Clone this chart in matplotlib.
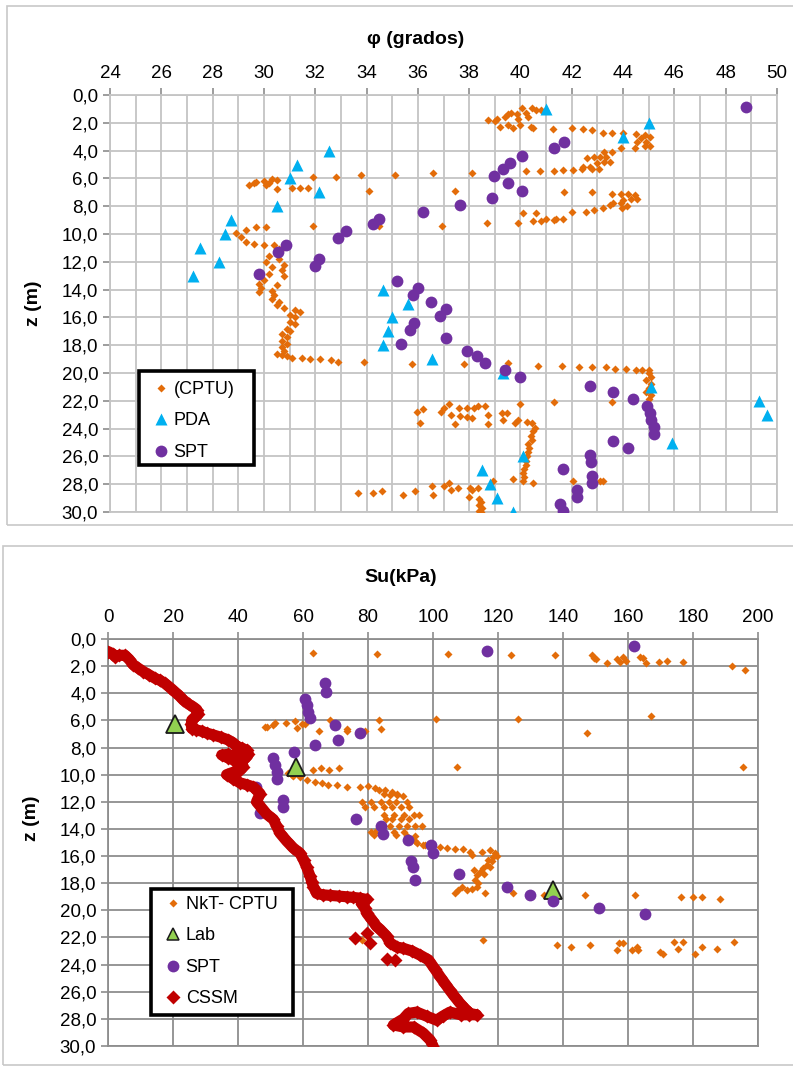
import matplotlib
matplotlib.use("Agg")
import matplotlib.pyplot as plt
from matplotlib.patches import Rectangle
from matplotlib.lines import Line2D
from matplotlib.ticker import MultipleLocator, FuncFormatter

# ---------------- datos: panel superior (phi) ----------------
cptu_phi = [38.75, 39.1, 39.4, 39.5, 39.65, 39.85, 40.05, 40.2, 40.45, 40.6, 40.8, 39.2, 39.5, 39.7, 40.0, 40.4, 40.5, 39.0, 39.9, 40.3,
            41.25, 42.0, 42.45, 42.8, 43.2, 43.55, 44.0,
            44.5, 44.85, 45.05, 44.55, 44.9, 45.05, 44.45, 44.85, 44.7,
            43.9, 43.55, 43.25, 43.35, 43.1, 42.85, 42.6, 43.5, 43.25, 43.0, 42.7, 42.45, 43.05, 42.8, 42.4,
            42.05, 41.65, 41.3, 40.75, 40.2, 38.1, 36.6, 35.1, 33.8, 32.8, 31.9,
            29.4, 29.6, 30.0, 30.1, 30.3, 30.5, 29.7, 30.2, 30.5, 31.1, 31.4, 31.7, 34.1, 37.45, 41.7, 42.8, 43.55,
            43.9, 44.2, 44.45, 44.55, 44.3, 44.0, 43.9, 43.6, 43.5, 44.15, 43.95,
            43.2, 42.85, 42.55, 42.0, 41.65, 41.3, 41.0, 40.6, 40.1, 39.9, 40.5, 40.8, 41.4, 38.7, 36.95, 34.5, 31.9,
            30.1, 29.7, 29.3, 28.9, 29.1, 29.3, 29.6, 30.0, 30.4, 30.8, 30.6,
            30.2, 30.6, 30.1, 30.8, 30.3, 30.7, 30.2, 30.8, 30.0, 29.8, 30.5, 29.9, 30.3, 29.8, 30.4, 30.3, 30.6, 30.5,
            30.8, 31.2, 31.4, 31.0, 31.2, 31.0, 31.2, 30.9, 31.0, 30.7, 30.9, 30.7, 30.9, 30.7, 30.8, 30.5, 30.7, 30.9,
            31.1, 31.5, 31.8, 32.2, 32.6, 32.9, 33.9,
            35.76, 37.8, 39.5, 40.7, 41.6, 42.3, 42.8, 43.35, 43.7, 44.1, 44.5, 44.75, 45.0,
            45.0, 45.1, 44.9, 45.1, 45.0, 44.9, 45.1, 45.0,
            43.56, 41.3, 40.0,
            35.96, 36.2, 36.1, 36.9, 37.0, 37.2, 37.3, 37.45, 37.6, 37.65, 37.9, 37.93, 38.1, 38.2, 38.36, 38.6, 38.75,
            38.75, 39.27, 39.33, 39.47, 39.8, 39.9, 40.25, 40.45, 40.57,
            40.5, 40.4, 40.45, 40.3, 40.35, 40.3, 40.25, 40.2, 40.2, 40.15, 40.1, 40.15, 40.1,
            39.7, 40.5, 42.06, 43.1, 43.23,
            35.43, 35.9, 36.54, 36.58, 37.0, 37.23, 37.3, 37.58, 38.03, 38.1, 38.36, 38.0, 38.94, 33.68, 34.24, 34.59,
            38.4, 38.45, 38.4, 38.5, 38.4, 38.45]
cptu_z = [1.8, 1.7, 1.55, 1.4, 1.3, 1.4, 0.9, 1.3, 0.96, 1.1, 1.1, 2.3, 2.15, 2.4, 2.15, 2.3, 2.4, 1.9, 1.7, 1.6,
          2.45, 2.4, 2.45, 2.55, 2.7, 2.7, 2.7,
          2.8, 2.9, 3.0, 3.35, 3.35, 3.7, 3.8, 3.7, 3.1,
          3.8, 4.1, 4.1, 4.45, 4.45, 4.45, 4.55, 4.8, 4.8, 4.9, 5.15, 5.15, 5.3, 5.3, 5.3,
          5.4, 5.4, 5.5, 5.5, 5.5, 5.6, 5.6, 5.75, 5.75, 5.9, 5.9,
          6.5, 6.35, 6.2, 6.5, 6.05, 6.1, 6.25, 6.3, 6.76, 6.7, 6.7, 6.7, 6.9, 6.9, 7.0, 7.0, 7.1,
          7.1, 7.1, 7.2, 7.45, 7.45, 7.55, 7.8, 7.8, 7.9, 8.0, 8.15,
          8.15, 8.3, 8.4, 8.4, 8.9, 9.0, 8.9, 8.5, 8.5, 9.2, 9.1, 9.1, 8.9, 9.2, 9.4, 9.4, 9.4,
          9.5, 9.5, 9.7, 9.95, 10.2, 10.55, 10.7, 10.8, 10.8, 10.9, 11.1,
          11.6, 11.8, 12.0, 12.2, 12.4, 12.6, 12.9, 13.0, 13.3, 13.6, 13.7, 13.9, 14.1, 14.2, 14.4, 14.7, 14.9, 15.1,
          15.3, 15.5, 15.6, 15.8, 16.0, 16.3, 16.5, 16.8, 17.0, 17.2, 17.4, 17.7, 17.9, 18.1, 18.4, 18.6, 18.7, 18.8,
          18.9, 18.9, 19.0, 19.0, 19.1, 19.2, 19.2,
          19.35, 19.35, 19.3, 19.5, 19.5, 19.6, 19.6, 19.6, 19.7, 19.7, 19.8, 19.8, 19.8,
          20.0, 20.3, 20.5, 20.8, 21.1, 21.4, 21.6, 21.9,
          22.1, 22.1, 22.2,
          22.78, 22.6, 23.6, 22.78, 22.55, 22.2, 23.0, 23.7, 22.5, 23.1, 22.55, 23.15, 23.25, 22.55, 22.4, 22.35, 23.0,
          23.7, 22.9, 23.4, 22.85, 23.6, 23.4, 23.5, 23.6, 23.98,
          24.2, 24.5, 24.8, 25.1, 25.4, 25.7, 26.0, 26.3, 26.6, 26.9, 27.2, 27.5, 27.8,
          27.6, 27.9, 27.8, 27.75, 27.75,
          28.8, 28.5, 28.13, 28.8, 28.13, 27.9, 28.4, 28.25, 28.25, 28.4, 28.25, 28.9, 27.77, 28.66, 28.66, 28.47,
          29.1, 29.3, 29.5, 29.7, 29.9, 30.0]

pda_phi = [41.0, 45.0, 44.0, 32.55, 31.3, 31.0, 32.15, 30.5, 28.7, 28.5, 27.5, 28.25, 27.25, 34.65, 35.6,
           35.0, 34.85, 34.65, 36.55, 39.3, 45.1, 49.3, 49.6, 45.9, 40.1, 38.5, 38.8, 39.1, 39.7]
pda_z = [1, 2, 3, 4, 5, 6, 7, 8, 9, 10, 11, 12, 13, 14, 15, 16, 17, 18, 19, 20, 21, 22, 23, 25, 26, 27, 28, 29, 30]

spt_phi = [48.8, 41.7, 41.3, 40.05, 39.6, 39.3, 38.95, 39.5, 40.05, 38.9, 37.65, 36.2, 34.5, 34.25, 33.2, 32.9,
           30.85, 30.55, 32.15, 32.0, 29.8, 35.2, 36.0, 35.8, 36.5, 37.1, 36.85, 35.85, 35.7, 37.1, 35.35, 37.9,
           38.3, 38.6, 39.4, 40.0, 42.7, 43.6, 44.4, 44.95, 45.05, 45.1, 45.2, 45.2, 43.6, 44.2, 42.7, 42.75,
           41.65, 42.8, 42.8, 42.2, 42.2, 41.55, 41.65]
spt_z = [0.85, 3.4, 3.8, 4.4, 4.9, 5.3, 5.8, 6.3, 6.9, 7.4, 7.9, 8.4, 8.9, 9.3, 9.8, 10.3,
         10.8, 11.3, 11.8, 12.3, 12.9, 13.4, 13.9, 14.4, 14.9, 15.4, 15.9, 16.4, 16.9, 17.5, 17.9, 18.4,
         18.8, 19.3, 19.8, 20.3, 20.9, 21.4, 21.9, 22.4, 22.9, 23.4, 23.9, 24.4, 24.9, 25.4, 25.9, 26.4,
         26.9, 27.4, 27.9, 28.4, 28.9, 29.4, 29.9]

# ---------------- datos: panel inferior (Su) ----------------
nkt_su = [63.2, 82.9, 104.6, 124, 137.5, 149, 149.5, 150, 153.5, 156.6, 157.5, 158.5, 159.4, 163.7, 164.5, 165.5,
          169.5, 172, 177, 192, 196,
          48.3, 48.8, 50.9, 51.4, 54.8, 57.5, 58.1, 59.6, 60.6, 65, 68.3, 73.4, 73.4, 79, 83.5, 83.9, 101, 126, 167, 147.4,
          63.1, 65.5, 68, 71, 107.4, 195.4,
          55.4, 56.5, 57, 59.1, 61.1, 63.7, 65.8, 67.8, 70.4, 73.6, 77.5, 80.1, 82.2, 83.5, 85.2, 87.3, 88.8,
          84.8, 86.8, 88.8, 90.9, 78.2, 80.8, 83.9, 86.4, 88.5, 92.1, 79.2, 81.8, 84.9, 87.5, 90.1, 92.6,
          84.8, 87.9, 91, 94.1, 95.6, 85.4, 87.4, 90, 92.6, 86.9, 89.5, 92.1, 94.6, 96.7,
          80.8, 82.3, 88, 91.1, 81.8, 88.5, 92,
          94.5, 94.5, 95, 97, 97.5, 102.1, 104.2, 106.8, 109.3, 111.4, 112, 115, 117.5, 119.1, 119.6,
          118.5, 116.8, 118, 116.5, 117.5, 115.5, 114.5, 115.8, 113.4, 112.5, 112.9, 113.9, 113.5, 111.9,
          110.4, 108.8, 107.8, 106.8, 116,
          124.7, 134.3, 146.8, 162.2, 176.3, 180.1, 182.7, 188.3,
          78, 115.3, 138, 142.5, 148.3, 156.5, 157.3, 158.6, 161.1, 162.7, 163.2, 169.8, 170.9, 174, 175.5,
          177, 180.6, 182.9, 187.3, 192.7]
nkt_z = [1.0, 1.1, 1.1, 1.2, 1.2, 1.2, 1.4, 1.5, 1.8, 1.5, 1.7, 1.3, 1.6, 1.3, 1.4, 1.8,
         1.7, 1.6, 1.7, 2.0, 2.3,
         6.5, 6.46, 6.34, 6.2, 6.2, 6.06, 6.55, 6.26, 6.26, 6.8, 5.97, 6.6, 6.75, 6.75, 5.97, 6.6, 5.87, 5.87, 5.7, 6.9,
         9.65, 9.5, 9.65, 9.5, 9.4, 9.4,
         9.9, 10.0, 10.1, 10.2, 10.4, 10.55, 10.6, 10.75, 10.75, 10.9, 10.9, 10.85, 11.0, 11.1, 11.1, 11.25, 11.4,
         11.4, 11.5, 11.5, 11.6, 12.0, 12.0, 12.0, 12.0, 12.0, 12.0, 12.35, 12.35, 12.35, 12.35, 12.35, 12.35,
         12.95, 12.95, 12.95, 12.95, 12.95, 13.3, 13.3, 13.3, 13.3, 13.8, 13.8, 13.8, 13.8, 13.8,
         14.2, 14.2, 14.2, 14.2, 14.45, 14.45, 14.5,
         14.5, 14.9, 15.0, 15.2, 15.2, 15.3, 15.4, 15.5, 15.5, 15.7, 15.9, 15.7, 15.55, 15.8, 16.0,
         16.1, 16.3, 16.4, 16.65, 16.8, 16.9, 17.15, 17.3, 17.4, 17.0, 17.75, 18.0, 18.3, 18.4,
         18.5, 18.3, 18.5, 18.7, 18.75,
         18.75, 18.85, 18.9, 18.9, 19.0, 19.0, 19.0, 19.15,
         22.2, 22.2, 22.55, 22.7, 22.55, 22.9, 22.4, 22.4, 22.95, 22.7, 22.95, 23.1, 23.2, 22.3, 22.85,
         22.3, 23.2, 22.7, 22.85, 22.3]

lab_su = [20.6, 57.8, 137]
lab_z = [6.3, 9.4, 18.5]

spt2_su = [161.7, 116.7, 66.8, 67.1, 60.6, 61.1, 61.6, 62.2, 69.8, 77.4, 70.9, 63.8, 57.2, 50.7, 51.3, 51.9,
           52.0, 45.5, 53.7, 53.9, 46.8, 76.4, 84.1, 84.6, 92.3, 99.4, 99.9, 93.3, 93.7, 94.5, 108.1, 122.7,
           129.8, 137, 151.2, 165.3]
spt2_z = [0.5, 0.86, 3.27, 3.9, 4.4, 4.9, 5.4, 5.85, 6.34, 6.9, 7.44, 7.8, 8.3, 8.8, 9.3, 9.8,
          10.3, 10.9, 11.85, 12.35, 12.85, 13.3, 13.8, 14.4, 14.8, 15.2, 15.8, 16.4, 16.8, 17.8, 17.3, 18.3,
          18.9, 19.3, 19.8, 20.3]

# perfil CSSM (orden de profundidad) y puntos sueltos del mismo ensayo
cssm_su = [0.1, 1.5, 2.2, 3.5, 5.2, 6.5, 7.8, 9.3, 10.9, 12.7, 14.5, 16, 17.5, 19.2, 20.6, 22, 23.2, 24.8,
           26.2, 27.3, 27.8, 26.8, 25.8, 25.6, 25.8, 27.2, 28.8, 30.6, 32.4, 34.8, 37, 38.5, 39.6, 41.2, 42.7,
           43.2, 42.2, 39.5, 37, 35, 36.8, 38.6, 40.5, 41.6, 40.2, 38.2, 36.5, 38.5, 40.6, 42.8, 44.7, 46.8,
           45.7, 47.8, 48.8, 50.9, 51.9, 52.9, 55, 57, 59.1, 60.2, 61.1, 62.2, 62.7, 63.2, 64.2, 66, 68.3, 71,
           73.4, 75.5, 77.5, 79.6, 78, 79, 79.6, 81.2, 82.7, 83.7, 85.7, 86.8, 88.8, 90.9,
           93.5, 96, 98.6, 100.5, 102.2, 103.7, 105.2, 106.8, 108.3, 110, 111.4,
           113.4, 111, 108.5, 105.2, 103, 101.1, 98, 95, 92.4, 90.9, 87.8, 90.9, 94, 97, 99.1, 100.1]
cssm_z = [0.93, 1.1, 1.3, 1.2, 1.2, 1.5, 1.9, 2.15, 2.4, 2.65, 2.9, 3.05, 3.27, 3.6, 3.9, 4.2, 4.5, 4.8,
          5.0, 5.2, 5.5, 5.75, 5.97, 6.3, 6.6, 6.7, 6.8, 6.95, 7.07, 7.25, 7.44, 7.65, 7.9, 8.05, 8.2,
          8.5, 8.8, 8.7, 8.5, 8.55, 8.75, 8.9, 9.1, 9.4, 9.7, 9.85, 10.0, 10.3, 10.6, 10.75, 10.9, 11.4,
          12.0, 12.6, 12.9, 13.3, 13.8, 14.3, 14.9, 15.4, 15.8, 16.3, 16.8, 17.5, 17.9, 18.25, 18.75, 18.85, 18.9, 18.95,
          19.0, 19.05, 19.1, 19.2, 19.5, 19.8, 20.2, 20.7, 21.2, 21.4, 21.9, 22.4, 22.7, 22.8,
          23.0, 23.3, 23.65, 24.3, 24.9, 25.4, 25.9, 26.4, 26.85, 27.3, 27.6,
          27.7, 27.7, 27.7, 27.5, 27.8, 28.1, 27.8, 27.5, 27.6, 28.0, 28.45, 28.6, 28.6, 29.05, 29.55, 30.05]
cssm_extra_su = [76, 79.6, 80.6, 85.7, 88.3]
cssm_extra_z = [22.05, 21.7, 22.4, 23.6, 23.65]

plt.rcParams['font.family'] = ['Liberation Sans', 'DejaVu Sans']

W, H = 793, 1068
fig = plt.figure(figsize=(W / 100, H / 100), dpi=100)

# marcos de los dos graficos
fig.patches.append(Rectangle((7 / W, 1 - 525 / H), 820 / W, 519 / H, transform=fig.transFigure,
                             fill=False, ec='#C8C8C8', lw=1.2))
fig.patches.append(Rectangle((3 / W, 1 - 1065 / H), 820 / W, 519 / H, transform=fig.transFigure,
                             fill=False, ec='#C8C8C8', lw=1.2))

zfmt = FuncFormatter(lambda v, p: f"{v:.1f}".replace('.', ','))

C_ORANGE = '#E36C09'
C_BLUE = '#00B0F0'
C_PURPLE = '#7030A0'
C_GREEN = '#92D050'
C_RED = '#C00000'


def setup(ax, grid_col, minor_x):
    ax.set_ylim(30, 0)
    ax.xaxis.tick_top()
    ax.yaxis.set_major_locator(MultipleLocator(2))
    ax.yaxis.set_major_formatter(zfmt)
    ax.grid(True, which='major', color=grid_col, lw=1.3, zorder=0)
    if minor_x:
        ax.xaxis.set_minor_locator(MultipleLocator(minor_x))
        ax.grid(True, which='minor', axis='x', color=grid_col, lw=1.3, zorder=0)
    ax.set_axisbelow(True)
    for s in ax.spines.values():
        s.set_color(grid_col)
        s.set_linewidth(1.3)
    ax.tick_params(axis='both', which='major', length=5, width=1.2, color='#8C8C8C',
                   labelsize=13.5, direction='out')
    ax.tick_params(axis='x', pad=4)
    ax.tick_params(axis='both', which='minor', length=0)


def boxed_legend(ax, handles, labels, box, first_y):
    # caja negra gruesa dibujada aparte para controlar su tamano exacto
    x0, y0, x1, y1 = box
    ax.add_patch(Rectangle((x0 / W, 1 - y1 / H), (x1 - x0) / W, (y1 - y0) / H, transform=fig.transFigure,
                           fc='white', ec='black', lw=2.6, clip_on=False, zorder=10))
    leg = ax.legend(handles, labels, loc='upper left', bbox_to_anchor=((x0 + 13) / W, 1 - first_y / H),
                    bbox_transform=fig.transFigure, frameon=False, fontsize=13, borderpad=0,
                    borderaxespad=0, labelspacing=0.8, handlelength=1.0, handletextpad=0.2)
    leg.set_zorder(11)
    return leg


# ---------------- phi ----------------
ax1 = fig.add_axes([110 / W, 1 - 512 / H, 667 / W, 417 / H])
ax1.set_xlim(24, 50)
ax1.xaxis.set_major_locator(MultipleLocator(2))
setup(ax1, '#C4C4C4', 1)
ax1.plot(cptu_phi, cptu_z, 'D', ms=4.5, color=C_ORANGE, mec='none', zorder=3)
ax1.plot(pda_phi, pda_z, '^', ms=8.5, color=C_BLUE, mec='none', zorder=4)
ax1.plot(spt_phi, spt_z, 'o', ms=8.5, color=C_PURPLE, mec='none', zorder=5)
h1 = [Line2D([], [], ls='none', marker='D', ms=4.5, color=C_ORANGE, mec='none'),
      Line2D([], [], ls='none', marker='^', ms=8.5, color=C_BLUE, mec='none'),
      Line2D([], [], ls='none', marker='o', ms=8.5, color=C_PURPLE, mec='none')]
boxed_legend(ax1, h1, ['(CPTU)', 'PDA', 'SPT'], (139, 371, 254, 465), 381)
fig.text(416 / W, 1 - 40 / H, 'φ (grados)', ha='center', va='center', fontsize=14, fontweight='bold')
fig.text(33 / W, 1 - 303 / H, 'z (m)', ha='center', va='center', rotation=90, fontsize=14, fontweight='bold')

# ---------------- Su ----------------
ax2 = fig.add_axes([108 / W, 1 - 1046 / H, 650 / W, 407 / H])
ax2.set_xlim(0, 200)
ax2.xaxis.set_major_locator(MultipleLocator(20))
setup(ax2, '#8E8E8E', None)
ax2.plot(nkt_su, nkt_z, 'D', ms=4.5, color=C_ORANGE, mec='none', zorder=3)
ax2.plot(lab_su, lab_z, '^', ms=13, color=C_GREEN, mec='#1A1A1A', mew=1.3, zorder=4)
ax2.plot(spt2_su, spt2_z, 'o', ms=8.5, color=C_PURPLE, mec='none', zorder=5)
ax2.plot(cssm_su, cssm_z, '-', lw=8, color=C_RED, solid_capstyle='round', solid_joinstyle='round', zorder=6)
ax2.plot(cssm_su, cssm_z, 'D', ms=7.5, color=C_RED, mec='none', zorder=6)
ax2.plot(cssm_extra_su, cssm_extra_z, 'D', ms=7.5, color=C_RED, mec='none', zorder=6)
h2 = [Line2D([], [], ls='none', marker='D', ms=4.5, color=C_ORANGE, mec='none'),
      Line2D([], [], ls='none', marker='^', ms=9, color=C_GREEN, mec='#1A1A1A', mew=1.1),
      Line2D([], [], ls='none', marker='o', ms=8.5, color=C_PURPLE, mec='none'),
      Line2D([], [], ls='none', marker='D', ms=7, color=C_RED, mec='none')]
boxed_legend(ax2, h2, ['NkT- CPTU', 'Lab', 'SPT', 'CSSM'], (151, 889, 293, 1015), 896)
fig.text(401 / W, 1 - 578 / H, 'Su(kPa)', ha='center', va='center', fontsize=14, fontweight='bold')
fig.text(32 / W, 1 - 818 / H, 'z (m)', ha='center', va='center', rotation=90, fontsize=14, fontweight='bold')

fig.savefig('out.png', dpi=100, facecolor='white')
